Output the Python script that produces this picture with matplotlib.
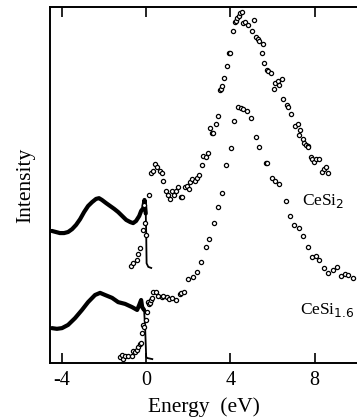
import matplotlib
matplotlib.use('Agg')
import matplotlib.pyplot as plt

plt.rcParams['font.family'] = ['Liberation Serif', 'DejaVu Serif']
plt.rcParams['axes.unicode_minus'] = False

# valence band (solid) traces, energy in eV, intensity in arbitrary units
vb_si2_E = [-4.48, -4.29, -4.10, -3.90, -3.71, -3.52, -3.33, -3.14, -2.95, -2.76, -2.57, -2.38,
            -2.24, -2.10, -1.90, -1.71, -1.52, -1.33, -1.14, -0.95, -0.76, -0.62, -0.48, -0.33,
            -0.24, -0.14, -0.08, -0.02, 0.0, 0.02, 0.10, 0.24]
vb_si2_I = [37.1, 36.8, 36.5, 36.5, 36.8, 37.6, 38.8, 40.4, 42.4, 44.1, 45.2, 46.1,
            46.3, 45.8, 44.9, 44.1, 43.3, 42.4, 41.3, 40.2, 39.6, 39.3, 39.9, 41.3,
            42.7, 43.5, 45.8, 42.0, 37.0, 28.0, 27.0, 26.7]
n_thick_si2 = 28

vb_si16_E = [-4.48, -4.24, -4.00, -3.71, -3.38, -3.05, -2.76, -2.43, -2.19, -1.95, -1.62, -1.33,
             -1.00, -0.67, -0.43, -0.33, -0.24, -0.19, -0.10, -0.05, 0.0, 0.05, 0.29]
vb_si16_I = [9.8, 9.6, 9.8, 10.7, 12.6, 14.9, 17.1, 19.1, 19.7, 19.1, 18.3, 17.1,
             16.6, 15.7, 14.9, 16.3, 17.7, 15.7, 14.9, 10.1, 1.7, 1.4, 1.1]
n_thick_si16 = 19

# inverse photoemission (open circles)
ip_si2_E = [-0.71, -0.62, -0.43, -0.38, -0.29, -0.14, 0.0, -0.05, -0.10, 0.14, 0.24, 0.33, 0.43,
            0.52, 0.67, 0.76, 0.81, 0.95, 1.05, 1.14, 1.24, 1.33, 1.43, 1.52, 1.67, 1.71, 1.86,
            1.95, 2.05, 2.10, 2.19, 2.33, 2.43, 2.52, 2.67, 2.71, 2.86, 2.95, 3.05, 3.14, 3.19,
            3.33, 3.43, 3.52, 3.57, 3.62, 3.71, 3.86, 3.95, 4.00, 4.14, 4.24, 4.29, 4.33, 4.43,
            4.48, 4.57, 4.62, 4.71, 4.86, 5.05, 5.14, 5.24, 5.33, 5.38, 5.48, 5.57, 5.62, 5.76,
            5.81, 5.95, 6.05, 6.14, 6.24, 6.33, 6.43, 6.52, 6.67, 6.76, 6.90, 7.05, 7.19, 7.24,
            7.33, 7.43, 7.48, 7.57, 7.67, 7.71, 7.81, 7.90, 7.95, 8.05, 8.19, 8.33, 8.43, 8.52,
            8.62]
ip_si2_I = [27.2, 28.1, 28.9, 30.6, 32.3, 37.4, 36.0, 39.3, 44.4, 47.2, 53.4, 53.9, 55.9,
            55.1, 53.9, 53.4, 51.1, 48.3, 47.2, 46.1, 48.3, 47.2, 48.3, 49.4, 46.6, 46.6, 49.4,
            49.7, 48.9, 50.8, 51.7, 51.1, 52.0, 52.8, 55.6, 58.1, 57.9, 59.0, 66.0, 64.6, 64.6,
            67.1, 69.4, 76.7, 77.0, 77.8, 80.1, 83.4, 87.1, 87.1, 93.3, 95.8, 96.1, 96.9, 97.5,
            98.3, 98.6, 95.5, 95.8, 94.9, 93.3, 96.3, 91.6, 91.0, 90.4, 87.1, 89.6, 84.3, 82.3,
            82.0, 81.5, 77.0, 78.7, 79.2, 78.1, 79.8, 74.2, 72.5, 71.9, 69.9, 66.6, 67.1, 64.0,
            65.4, 62.9, 61.8, 61.2, 61.0, 60.7, 57.9, 57.3, 56.5, 57.3, 57.3, 53.7, 54.5, 55.1,
            53.4]

ip_si16_E = [-1.24, -1.10, -1.14, -1.00, -0.86, -0.67, -0.62, -0.52, -0.43, -0.38, -0.29, -0.24,
             -0.19, -0.14, -0.10, 0.0, 0.05, 0.10, 0.14, 0.19, 0.24, 0.29, 0.33, 0.48, 0.57,
             0.76, 0.81, 1.00, 1.10, 1.24, 1.43, 1.62, 1.67, 1.81, 2.00, 2.24, 2.43, 2.62, 2.86,
             3.00, 3.24, 3.43, 3.62, 3.81, 4.05, 4.19, 4.38, 4.52, 4.62, 4.81, 5.00, 5.24, 5.38,
             5.67, 5.76, 6.00, 6.14, 6.29, 6.62, 6.81, 7.00, 7.24, 7.43, 7.67, 7.86, 8.05, 8.19,
             8.43, 8.62, 8.86, 9.05, 9.24, 9.43, 9.57, 9.81]
ip_si16_I = [1.7, 1.1, 2.2, 2.0, 2.0, 2.0, 3.4, 3.1, 3.7, 4.5, 5.3, 5.6,
             8.4, 10.7, 10.1, 12.1, 14.3, 17.1, 16.6, 16.9, 17.7, 18.3, 19.9, 19.9, 18.8,
             18.5, 18.8, 18.5, 18.0, 18.3, 17.7, 19.4, 19.7, 19.9, 23.6, 24.2, 25.6, 28.4, 32.6,
             34.8, 39.3, 43.8, 47.8, 55.6, 60.4, 68.0, 71.9, 71.6, 71.3, 70.8, 68.8, 63.5, 60.7,
             56.2, 56.2, 52.0, 51.1, 50.3, 45.5, 41.3, 38.8, 37.9, 35.7, 32.6, 29.8, 30.1, 28.9,
             26.7, 25.3, 26.1, 27.0, 24.4, 25.0, 24.7, 23.9]

xticks = [-4, 0, 4, 8]

fig = plt.figure(figsize=(3.57, 4.2), dpi=100)
ax = fig.add_axes([0.140, 0.1357, 0.862, 0.8476])

# solid valence-band traces: thick part, then the thin edge drop
for E, I, n in [(vb_si2_E, vb_si2_I, n_thick_si2), (vb_si16_E, vb_si16_I, n_thick_si16)]:
    ax.plot(E[:n], I[:n], color='black', lw=3.0, solid_capstyle='round', solid_joinstyle='round')
    ax.plot(E[n - 1:], I[n - 1:], color='black', lw=1.3)

for E, I in [(ip_si2_E, ip_si2_I), (ip_si16_E, ip_si16_I)]:
    ax.plot(E, I, ls='none', marker='o', ms=3.0, mfc='white', mec='black', mew=0.9)

ax.text(7.4, 45.5, 'CeSi$_2$', fontsize=12.5, va='center', ha='left')
ax.text(7.3, 15.0, 'CeSi$_{1.6}$', fontsize=12.5, va='center', ha='left')

ax.set_xlim(-4.57, 10.05)
ax.set_ylim(0, 100)
ax.set_xticks(xticks)
ax.set_xticklabels([str(t) for t in xticks], fontsize=14.5)
ax.set_yticks([])
ax.tick_params(axis='x', direction='in', top=True, length=7, width=1.2, pad=6)
ax.spines['right'].set_visible(False)
for s in ['left', 'top', 'bottom']:
    ax.spines[s].set_linewidth(1.4)

ax.set_xlabel('Energy  (eV)', fontsize=15.5, labelpad=5)
ax.set_ylabel('Intensity', fontsize=15.5, labelpad=11)

fig.savefig('out.png', dpi=100)
